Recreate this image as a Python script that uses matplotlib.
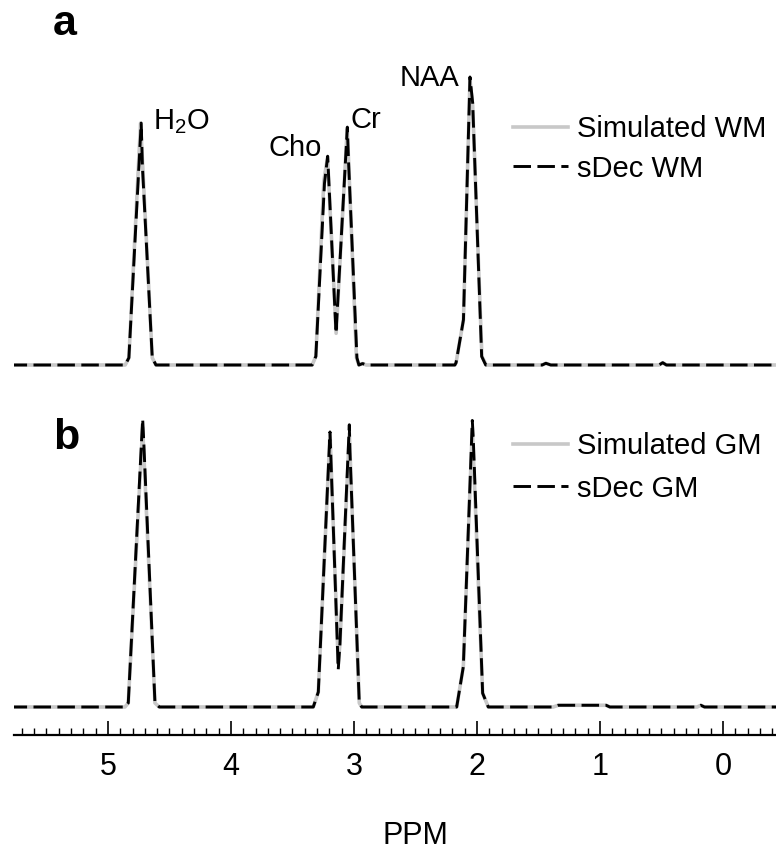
import numpy as np
import matplotlib
matplotlib.use("Agg")
import matplotlib.pyplot as plt

plt.rcParams['font.family'] = ['Liberation Sans', 'DejaVu Sans']
plt.rcParams['mathtext.fontset'] = 'custom'
plt.rcParams['mathtext.rm'] = 'Liberation Sans'

# spectra (ppm, normalised intensity)
ppm_sim_a = [5.80, 4.86, 4.83, 4.735, 4.64, 4.61, 3.34, 3.31, 3.245, 3.215, 3.145, 3.055, 3.045,
             2.98, 2.96, 2.93, 2.90, 2.18, 2.17, 2.11, 2.057, 2.035, 1.96, 1.925, 1.47, 1.44, 1.40,
             0.52, 0.49, 0.46, -0.50]
int_sim_a = [0, 0, 0.025, 0.84, 0.025, 0, 0, 0.03, 0.64, 0.72, 0.11, 0.82, 0.72,
             0.025, 0, 0.005, 0, 0, 0.008, 0.157, 0.99, 0.90, 0.03, 0, 0, 0.006, 0,
             0, 0.008, 0, 0]

ppm_dec_a = [5.80, 4.86, 4.83, 4.73, 4.72, 4.64, 4.61, 3.34, 3.31, 3.24, 3.214, 3.146, 3.054, 3.046,
             2.976, 2.96, 2.93, 2.90, 2.18, 2.17, 2.11, 2.057, 2.035, 1.962, 1.929, 1.47, 1.44, 1.40,
             0.52, 0.49, 0.46, -0.50]
int_dec_a = [0, 0, 0.025, 0.84, 0.69, 0.025, 0, 0, 0.03, 0.63, 0.725, 0.11, 0.826, 0.725,
             0.025, 0, 0.005, 0, 0, 0.008, 0.157, 1.0, 0.91, 0.03, 0, 0, 0.006, 0,
             0, 0.008, 0, 0]

ppm_sim_b = [5.80, 4.862, 4.835, 4.718, 4.618, 4.583, 3.331, 3.29, 3.195, 3.128, 3.114, 3.038,
             2.957, 2.937, 2.165, 2.111, 2.038, 1.954, 1.908, 1.38, 1.34, 0.95, 0.92,
             0.21, 0.18, 0.15, -0.50]
int_sim_b = [0, 0, 0.014, 0.97, 0.014, 0, 0, 0.052, 0.95, 0.15, 0.22, 0.95,
             0.014, 0, 0, 0.14, 0.97, 0.048, 0, 0, 0.006, 0.006, 0,
             0, 0.006, 0, 0]

ppm_dec_b = [5.80, 4.862, 4.835, 4.718, 4.71, 4.618, 4.583, 3.331, 3.29, 3.195, 3.128, 3.114, 3.038,
             3.033, 2.957, 2.937, 2.165, 2.111, 2.038, 2.03, 1.954, 1.908, 1.38, 1.34, 0.95, 0.92,
             0.21, 0.18, 0.15, -0.50]
int_dec_b = [0, 0, 0.014, 1.0, 0.93, 0.014, 0, 0, 0.052, 0.955, 0.13, 0.22, 0.98,
             0.89, 0.014, 0, 0, 0.14, 0.995, 0.93, 0.048, 0, 0, 0.006, 0.006, 0,
             0, 0.006, 0, 0]

peak_names = ["H$_2$O", "Cho", "Cr", "NAA"]
peak_ppm = [4.63, 3.26, 3.03, 2.14]
peak_y = [0.845, 0.755, 0.85, 0.995]
peak_ha = ["left", "right", "left", "right"]

XMIN, XMAX = 5.764, -0.431
W, H = 776, 863

fig = plt.figure(figsize=(W / 100, H / 100), dpi=100)


def px_axes(top, bottom):
    return fig.add_axes([14 / W, 1 - bottom / H, 1 - 14 / W, (bottom - top) / H])


def panel(ax, x1, y1, x2, y2, lab1, lab2, base, top, bottom, legend_top, spacing):
    ax.plot(x1, y1, color="#c8c8c8", lw=2.6, label=lab1)
    ax.plot(x2, y2, color="black", lw=2.1, dashes=(6.0, 2.2), label=lab2)
    ax.set_xlim(XMIN, XMAX)
    ax.set_ylim(-(bottom - base) / 288, (base - top) / 288)
    ax.axis("off")
    ax.legend(loc="upper left", bbox_to_anchor=(513 / W, 1 - legend_top / H),
              bbox_transform=fig.transFigure, frameon=False, fontsize=21,
              handlelength=1.9, handletextpad=0.3, labelspacing=spacing,
              borderpad=0, borderaxespad=0)


ax_a = px_axes(60, 375)
panel(ax_a, ppm_sim_a, int_sim_a, ppm_dec_a, int_dec_a,
      "Simulated WM", "sDec WM", 365, 60, 375, 115, 0.4)
for name, x, y, ha in zip(peak_names, peak_ppm, peak_y, peak_ha):
    ax_a.text(x, y, name, fontsize=21, ha=ha, va="center")

ax_b = px_axes(400, 717)
panel(ax_b, ppm_sim_b, int_sim_b, ppm_dec_b, int_dec_b,
      "Simulated GM", "sDec GM", 707, 400, 717, 432, 0.5)

fig.text(53 / W, 1 - 24 / H, "a", fontsize=31, fontweight="bold", va="center")
fig.text(53 / W, 1 - 438 / H, "b", fontsize=31, fontweight="bold", va="center")

# shared ppm axis
ax_x = fig.add_axes([14 / W, 1 - 735 / H, 1 - 14 / W, 0.0001])
ax_x.set_xlim(XMIN, XMAX)
ax_x.set_yticks([])
for s in ["top", "left", "right"]:
    ax_x.spines[s].set_visible(False)
ax_x.spines["bottom"].set_linewidth(1.6)
ax_x.set_xticks(np.arange(0, 6, 1))
ax_x.set_xticks(np.arange(-0.4, 5.8, 0.1), minor=True)
ax_x.tick_params(axis="x", which="major", direction="in", length=10, width=1.2,
                 labelsize=22, pad=12)
ax_x.tick_params(axis="x", which="minor", direction="in", length=5, width=1.0)
fig.text(415 / W, 1 - 836 / H, "PPM", fontsize=22, ha="center", va="center")

fig.savefig("out.png", dpi=100)
